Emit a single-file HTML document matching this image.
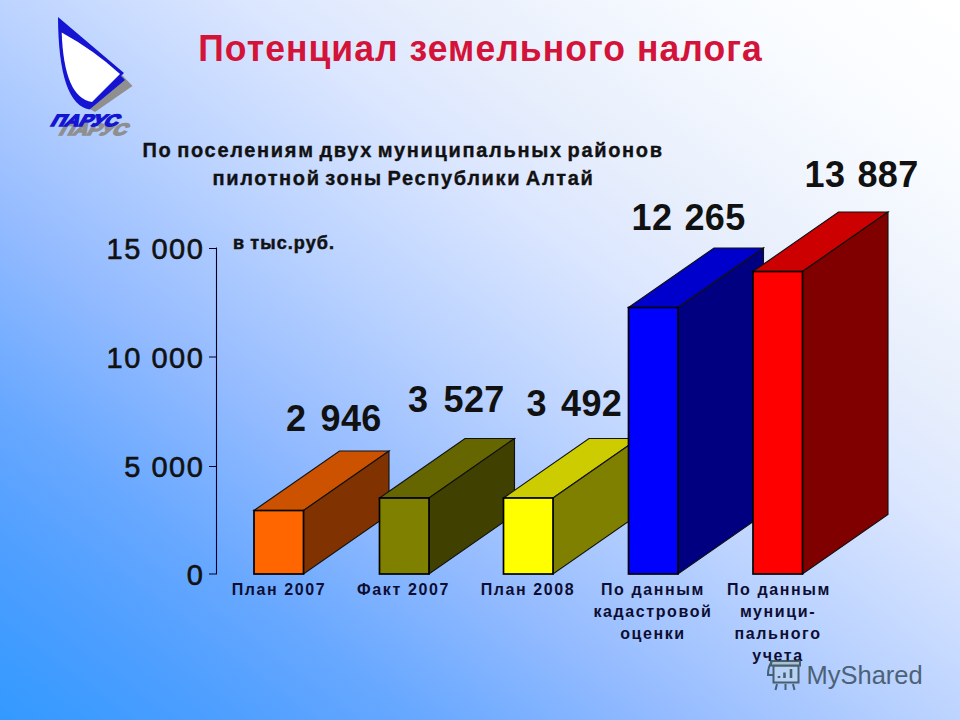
<!DOCTYPE html>
<html><head><meta charset="utf-8">
<style>
html,body{margin:0;padding:0;width:960px;height:720px;overflow:hidden;}
body{background:linear-gradient(to top right,#3399ff 0%,#4f9fff 12.5%,#68a8ff 22%,#94bbff 35%,#bdd4ff 50%,#dbe6ff 62.5%,#e8effc 72%,#f8fbff 87%,#ffffff 100%);}
svg{position:absolute;left:0;top:0;}
text{font-family:"Liberation Sans",sans-serif;}
</style></head><body>
<svg width="960" height="720" viewBox="0 0 960 720">
<!-- logo -->
<g id="logo">
  <path d="M122,75 L132.5,86 L95,112 L88,108 Z" fill="#8f8f8f"/>
  <path d="M58,17 L124,73 L121,76 L125,80 L89.5,109.5 Q58.5,104 58,17 Z" fill="#1414d2"/>
  <path d="M61.7,32.6 Q93.3,49.9 120,74 L92,102 Q64,98 61.7,32.6 Z" fill="#ffffff"/>
  <g transform="translate(58,134.5) skewX(-30)" font-weight="bold" font-size="16.5" fill="#8f8f8f" stroke="#8f8f8f" stroke-width="1.5"><text x="0" y="0" textLength="67" lengthAdjust="spacingAndGlyphs">ПАРУС</text></g>
  <g transform="translate(49.5,126) skewX(-30)" font-weight="bold" font-size="16.5" fill="#1414d2" stroke="#1414d2" stroke-width="1.5"><text x="0" y="0" textLength="67" lengthAdjust="spacingAndGlyphs">ПАРУС</text></g>
</g>
<!-- title -->
<g transform="translate(198.3,60.8) scale(0.96,1)"><text x="0" y="0" font-size="37" font-weight="bold" fill="#d41339" textLength="587" lengthAdjust="spacing">Потенциал земельного налога</text></g>
<!-- subtitle -->
<text x="142.5" y="157" font-size="20" font-weight="bold" fill="#111" stroke="#111" stroke-width="0.35" letter-spacing="1.68" word-spacing="-2.5">По поселениям двух муниципальных районов</text>
<text x="212.5" y="185" font-size="20" font-weight="bold" fill="#111" stroke="#111" stroke-width="0.35" letter-spacing="1.65" word-spacing="-2.5">пилотной зоны Республики Алтай</text>
<!-- units -->
<text x="233" y="249" font-size="18" font-weight="bold" fill="#111" stroke="#111" stroke-width="0.5" letter-spacing="1.1" word-spacing="-1">в тыс.руб.</text>
<!-- axis -->
<g stroke="#000022" stroke-width="1.1" fill="none">
  <path d="M216.5,247.5 V574.5 M209,248.5 H217 M209,357 H217 M209,466.5 H217 M209,574 H217"/>
</g>
<g font-size="29" fill="#111" stroke="#111" stroke-width="0.6" text-anchor="end">
  <text x="204.5" y="258.5" letter-spacing="1.56">15 000</text>
  <text x="204.5" y="367.5" letter-spacing="1.56">10 000</text>
  <text x="204.5" y="477" letter-spacing="1.56">5 000</text>
  <text x="204.5" y="585" letter-spacing="1.56">0</text>
</g>
<!-- bars -->
<g stroke-linejoin="miter">
  <g>
    <path d="M254,510.5 L339.5,451.0 L389.0,451.0 L303.5,510.5 Z" fill="#cc5200" stroke="#111" stroke-width="1.1"/>
    <path d="M303.5,510.5 L389.0,451.0 L389.0,514.5 L303.5,574 Z" fill="#803300" stroke="#111" stroke-width="1.1"/>
    <rect x="254" y="510.5" width="49.5" height="63.5" fill="#ff6600" stroke="#000" stroke-width="1.7"/>
  </g>
  <g>
    <path d="M379.5,498 L465.0,438.5 L514.5,438.5 L429.0,498 Z" fill="#666600" stroke="#111" stroke-width="1.1"/>
    <path d="M429.0,498 L514.5,438.5 L514.5,514.5 L429.0,574 Z" fill="#404000" stroke="#111" stroke-width="1.1"/>
    <rect x="379.5" y="498" width="49.5" height="76" fill="#808000" stroke="#000" stroke-width="1.7"/>
  </g>
  <g>
    <path d="M503.5,498 L589.0,438.5 L638.5,438.5 L553.0,498 Z" fill="#cccc00" stroke="#111" stroke-width="1.1"/>
    <path d="M553.0,498 L638.5,438.5 L638.5,514.5 L553.0,574 Z" fill="#808000" stroke="#111" stroke-width="1.1"/>
    <rect x="503.5" y="498" width="49.5" height="76" fill="#ffff00" stroke="#000" stroke-width="1.7"/>
  </g>
  <g>
    <path d="M628.5,307.5 L714.0,248.0 L763.5,248.0 L678.0,307.5 Z" fill="#0000cc" stroke="#111" stroke-width="1.1"/>
    <path d="M678.0,307.5 L763.5,248.0 L763.5,514.5 L678.0,574 Z" fill="#000080" stroke="#111" stroke-width="1.1"/>
    <rect x="628.5" y="307.5" width="49.5" height="266.5" fill="#0000ff" stroke="#000" stroke-width="1.7"/>
  </g>
  <g>
    <path d="M753,271.5 L838.5,212.0 L888.0,212.0 L802.5,271.5 Z" fill="#cc0000" stroke="#111" stroke-width="1.1"/>
    <path d="M802.5,271.5 L888.0,212.0 L888.0,514.5 L802.5,574 Z" fill="#800000" stroke="#111" stroke-width="1.1"/>
    <rect x="753" y="271.5" width="49.5" height="302.5" fill="#ff0000" stroke="#000" stroke-width="1.7"/>
  </g>
</g>
<!-- value labels -->
<g font-size="36" font-weight="bold" fill="#111" letter-spacing="0.45" word-spacing="1.5">
  <text x="286" y="430.6" word-spacing="3.5">2 946</text>
  <text x="408" y="412" word-spacing="4.5">3 527</text>
  <text x="526.5" y="416" word-spacing="3.5">3 492</text>
  <text x="631.5" y="229.6">12 265</text>
  <text x="804.5" y="187">13 887</text>
</g>
<!-- category labels -->
<g font-size="16" font-weight="bold" fill="#0d0d33" text-anchor="middle" letter-spacing="1.6" word-spacing="0">
  <text x="279" y="595">План 2007</text>
  <text x="403.5" y="595">Факт 2007</text>
  <text x="528" y="595">План 2008</text>
  <text x="653" y="595">По данным</text>
  <text x="653" y="617">кадастровой</text>
  <text x="653" y="639">оценки</text>
  <text x="779" y="595">По данным</text>
  <text x="778" y="617">муници-</text>
  <text x="778" y="639">пального</text>
  <text x="778" y="661">учета</text>
</g>
<!-- watermark -->
<g opacity="0.8" fill="none" stroke="#2f4550" stroke-width="2">
  <rect x="773.5" y="665.5" width="25" height="17" fill="#c8dde6" fill-opacity="0.5"/>
  <rect x="771" y="661" width="29" height="4.5" fill="#a9c0c8"/>
  <path d="M772,662 Q768,666 768,675 H773.5"/>
  <path d="M779,676 V678 M784.5,672.5 V678 M791,669 V678" stroke-width="2.6"/>
  <path d="M777,684 L775.5,690 M785.5,684 V690 M793,684 L794.5,690" stroke-width="2"/>
</g>
<text x="806.5" y="683.5" font-size="25.5" fill="#3a4f5e" opacity="0.85">MyShared</text>
</svg>
</body></html>
